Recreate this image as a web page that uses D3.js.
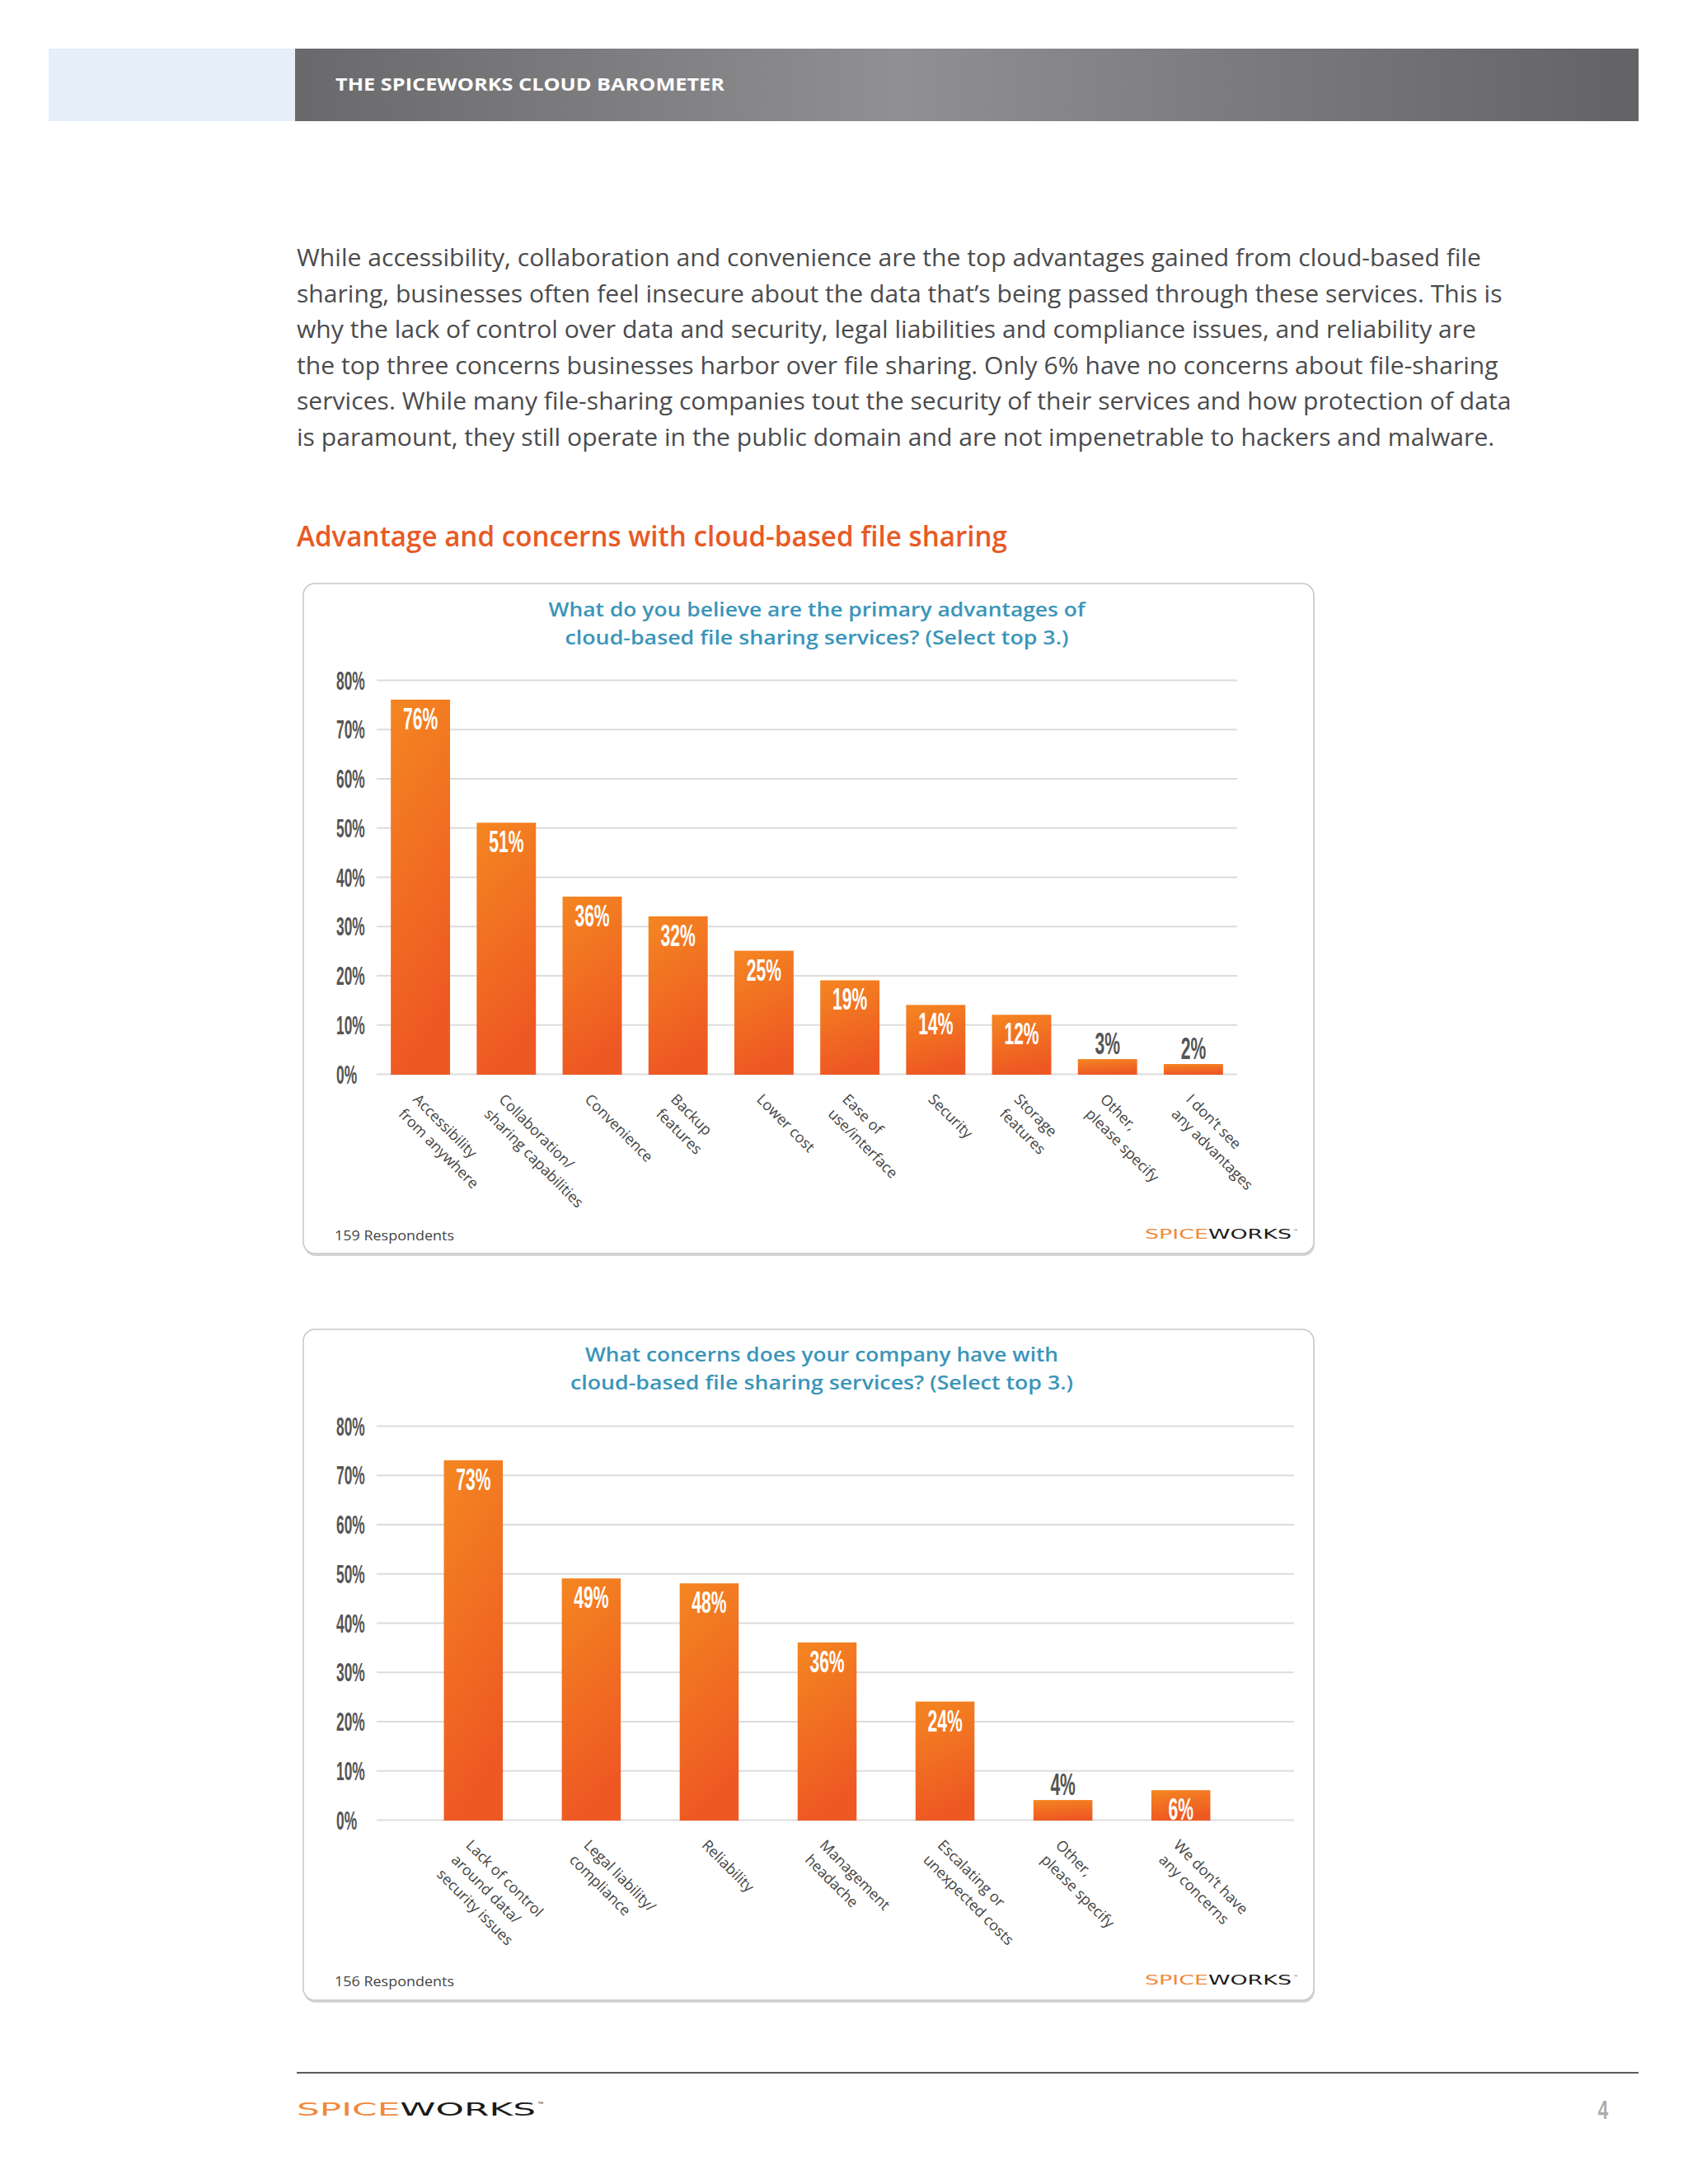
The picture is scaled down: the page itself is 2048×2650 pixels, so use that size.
<!DOCTYPE html>
<html>
<head>
<meta charset="utf-8">
<script src="https://cdn.jsdelivr.net/npm/d3@7"></script>
<style>
  body { margin: 0; background: #fff; }
  svg { display: block; }
</style>
</head>
<body>
<div id="page"></div>
<script>
// ---- data ----
var introLines = [
  "While accessibility, collaboration and convenience are the top advantages gained from cloud-based file",
  "sharing, businesses often feel insecure about the data that\u2019s being passed through these services. This is",
  "why the lack of control over data and security, legal liabilities and compliance issues, and reliability are",
  "the top three concerns businesses harbor over file sharing. Only 6% have no concerns about file-sharing",
  "services. While many file-sharing companies tout the security of their services and how protection of data",
  "is paramount, they still operate in the public domain and are not impenetrable to hackers and malware."
];

var advantageTitle = ["What do you believe are the primary advantages of",
                      "cloud-based file sharing services? (Select top 3.)"];
var advantageLabels = [
  ["Accessibility", "from anywhere"],
  ["Collaboration/", "sharing capabilities"],
  ["Convenience"],
  ["Backup", "features"],
  ["Lower cost"],
  ["Ease of", "use/interface"],
  ["Security"],
  ["Storage", "features"],
  ["Other,", "please specify"],
  ["I don\u2019t see", "any advantages"]
];
var advantageValues = [76, 51, 36, 32, 25, 19, 14, 12, 3, 2];

var concernTitle = ["What concerns does your company have with",
                    "cloud-based file sharing services? (Select top 3.)"];
var concernLabels = [
  ["Lack of control", "around data/", "security issues"],
  ["Legal liability/", "compliance"],
  ["Reliability"],
  ["Management", "headache"],
  ["Escalating or", "unexpected costs"],
  ["Other,", "please specify"],
  ["We don\u2019t have", "any concerns"]
];
var concernValues = [73, 49, 48, 36, 24, 4, 6];

var yTicks = [0, 10, 20, 30, 40, 50, 60, 70, 80];

// ---- page ----
var svg = d3.select("#page").append("svg")
    .attr("width", 2048)
    .attr("height", 2650);

var defs = svg.append("defs");

var hg = defs.append("linearGradient").attr("id", "headerGrad")
    .attr("x1", 0).attr("y1", 0).attr("x2", 1).attr("y2", 0);
hg.append("stop").attr("offset", "0").attr("stop-color", "#69696b");
hg.append("stop").attr("offset", "0.45").attr("stop-color", "#909092");
hg.append("stop").attr("offset", "1").attr("stop-color", "#636365");

var bg = defs.append("linearGradient").attr("id", "barGrad")
    .attr("x1", 0).attr("y1", 0).attr("x2", 0.25).attr("y2", 1);
bg.append("stop").attr("offset", "0").attr("stop-color", "#f48621");
bg.append("stop").attr("offset", "1").attr("stop-color", "#ee5823");

// header band
svg.append("rect").attr("x", 59).attr("y", 59).attr("width", 299).attr("height", 88)
    .attr("fill", "#e5eef9");
svg.append("rect").attr("x", 358).attr("y", 59).attr("width", 1630).attr("height", 88)
    .attr("fill", "url(#headerGrad)");
svg.append("text")
    .attr("x", 407).attr("y", 110)
    .attr("font-family", "'Open Sans', sans-serif")
    .attr("font-weight", 700)
    .attr("font-size", 22)
    .attr("fill", "#fff")
    .attr("textLength", 472)
    .attr("lengthAdjust", "spacingAndGlyphs")
    .text("THE SPICEWORKS CLOUD BAROMETER");

// intro paragraph
var intro = svg.append("g").attr("class", "intro");
var introText = intro.selectAll("text")
    .data(introLines)
    .enter().append("text")
    .attr("x", 360)
    .attr("y", function(d, i) { return 323 + i * 43.5; })
    .attr("font-family", "'Open Sans', sans-serif")
    .attr("font-size", 29)
    .attr("fill", "#4b4b4d")
    .text(function(d) { return d; });
var natural = introText.nodes().map(function(n) { return n.getComputedTextLength(); });
var squeeze = 1437 / natural[0];
introText
    .attr("textLength", function(d, i) { return natural[i] * squeeze; })
    .attr("lengthAdjust", "spacingAndGlyphs");

// section heading
svg.append("text")
    .attr("x", 360).attr("y", 663)
    .attr("font-family", "'Open Sans', sans-serif")
    .attr("font-weight", 600)
    .attr("font-size", 35)
    .attr("fill", "#e85a25")
    .attr("textLength", 862)
    .attr("lengthAdjust", "spacingAndGlyphs")
    .text("Advantage and concerns with cloud-based file sharing");

function logo(parent, x, y, size, len) {
    var t = parent.append("text")
        .attr("x", x).attr("y", y)
        .attr("font-family", "'DejaVu Sans', sans-serif")
        .attr("font-size", size)
        .attr("textLength", len)
        .attr("lengthAdjust", "spacingAndGlyphs");
    t.append("tspan").attr("fill", "#f0893a").text("SPICE");
    t.append("tspan").attr("fill", "#1a1a1a").text("WORKS");
    parent.append("text")
        .attr("x", x + len + 2).attr("y", y - size * 0.45)
        .attr("font-family", "'DejaVu Sans', sans-serif")
        .attr("font-size", size * 0.4)
        .attr("fill", "#1a1a1a")
        .text("\u2122");
}

function drawChart(o) {
    var g = svg.append("g").attr("class", "chart");

    // panel
    g.append("rect")
        .attr("x", o.box[0] + 1).attr("y", o.box[1] + 3)
        .attr("width", o.box[2]).attr("height", o.box[3])
        .attr("rx", 14).attr("fill", "#d6d6d6");
    g.append("rect")
        .attr("x", o.box[0]).attr("y", o.box[1])
        .attr("width", o.box[2]).attr("height", o.box[3])
        .attr("rx", 14).attr("fill", "#fff")
        .attr("stroke", "#c8c8c8").attr("stroke-width", 1.5);

    // title
    g.selectAll("text.title")
        .data(o.title)
        .enter().append("text")
        .attr("class", "title")
        .attr("x", o.titleX)
        .attr("y", function(d, i) { return o.titleY + i * 33.5; })
        .attr("text-anchor", "middle")
        .attr("font-family", "'Open Sans', sans-serif")
        .attr("font-weight", 600)
        .attr("font-size", 24)
        .attr("fill", "#3b95b9")
        .attr("textLength", function(d, i) { return o.titleLen[i]; })
        .attr("lengthAdjust", "spacingAndGlyphs")
        .text(function(d) { return d; });

    var y = d3.scaleLinear().domain([0, 80]).range([o.y0, o.y80]);
    var x = d3.scaleBand()
        .domain(d3.range(o.values.length))
        .range(o.band)
        .paddingInner(o.padIn)
        .paddingOuter(o.padOut);

    // grid + y labels
    var axis = g.append("g")
        .attr("transform", "translate(" + o.grid[0] + ",0)")
        .call(d3.axisLeft(y)
            .tickValues(yTicks)
            .tickSize(-(o.grid[1] - o.grid[0]))
            .tickFormat(function(d) { return d + "%"; }));
    axis.select(".domain").remove();
    axis.selectAll(".tick line")
        .attr("stroke", "#dcdcdc")
        .attr("stroke-width", 2);
    axis.selectAll(".tick text")
        .attr("text-anchor", "start")
        .attr("x", (408 - o.grid[0]) / 0.56)
        .attr("dy", 11)
        .attr("transform", "scale(0.56,1)")
        .attr("font-family", "'Liberation Sans', Arial, sans-serif")
        .attr("font-weight", 700)
        .attr("font-size", 31)
        .attr("fill", "#555");

    // bars
    var plot = g.append("g").attr("class", "plot");
    plot.selectAll("rect")
        .data(o.values)
        .enter().append("rect")
        .attr("class", "bar")
        .attr("x", function(d, i) { return x(i); })
        .attr("width", x.bandwidth())
        .attr("y", function(d) { return y(d); })
        .attr("height", function(d) { return y(0) - y(d) + 1; })
        .attr("fill", "url(#barGrad)");

    // value labels
    plot.selectAll("g.value")
        .data(o.values)
        .enter().append("g")
        .attr("class", "value")
        .attr("transform", function(d, i) {
            var cx = x(i) + x.bandwidth() / 2;
            var ty = d > 5 ? y(d) + 36 : y(d) - 6;
            return "translate(" + cx + "," + ty + ") scale(0.57,1)";
        })
        .append("text")
        .attr("text-anchor", "middle")
        .attr("font-family", "'Liberation Sans', Arial, sans-serif")
        .attr("font-weight", 700)
        .attr("font-size", 37)
        .attr("fill", function(d) { return d > 5 ? "#fff" : "#555"; })
        .text(function(d) { return d + "%"; });

    // category labels
    var cat = g.selectAll("g.cat")
        .data(o.labels)
        .enter().append("g")
        .attr("class", "cat")
        .attr("transform", function(d, i) {
            var cx = x(i) + x.bandwidth() / 2;
            return "translate(" + (cx - 10) + "," + (o.y0 + 32) + ") rotate(45)";
        })
        .append("text")
        .attr("font-family", "'Open Sans', sans-serif")
        .attr("font-size", 18)
        .attr("fill", "#444");
    cat.selectAll("tspan")
        .data(function(d) { return d; })
        .enter().append("tspan")
        .attr("x", 0)
        .attr("dy", function(d, i) { return i ? 25 : 0; })
        .text(function(d) { return d; });

    // footnote + logo
    g.append("text")
        .attr("x", 406).attr("y", o.footY)
        .attr("font-family", "'Open Sans', sans-serif")
        .attr("font-size", 17)
        .attr("fill", "#444")
        .attr("textLength", 145)
        .attr("lengthAdjust", "spacingAndGlyphs")
        .text(o.respondents);
    logo(g, 1389, o.footY - 2, 15, 178);
}

drawChart({
    box: [368, 708, 1226, 813],
    title: advantageTitle,
    titleX: 991, titleY: 748, titleLen: [651, 611],
    y0: 1303, y80: 825,
    grid: [457, 1501],
    band: [458, 1500], padIn: 0.31, padOut: 0.155,
    values: advantageValues,
    labels: advantageLabels,
    respondents: "159 Respondents",
    footY: 1505
});

drawChart({
    box: [368, 1613, 1226, 814],
    title: concernTitle,
    titleX: 997, titleY: 1652, titleLen: [574, 610],
    y0: 2208, y80: 1730,
    grid: [457, 1570],
    band: [467, 1540], padIn: 0.5, padOut: 0.5,
    values: concernValues,
    labels: concernLabels,
    respondents: "156 Respondents",
    footY: 2410
});

// footer
svg.append("line")
    .attr("x1", 360).attr("x2", 1988)
    .attr("y1", 2515).attr("y2", 2515)
    .attr("stroke", "#5a5a5a").attr("stroke-width", 2);
logo(svg, 360, 2567, 22, 290);
svg.append("g")
    .attr("transform", "translate(1945,2571) scale(0.7,1)")
    .append("text")
    .attr("text-anchor", "middle")
    .attr("font-family", "'Liberation Sans', Arial, sans-serif")
    .attr("font-weight", 700)
    .attr("font-size", 32)
    .attr("fill", "#adadad")
    .text("4");
</script>
</body>
</html>
